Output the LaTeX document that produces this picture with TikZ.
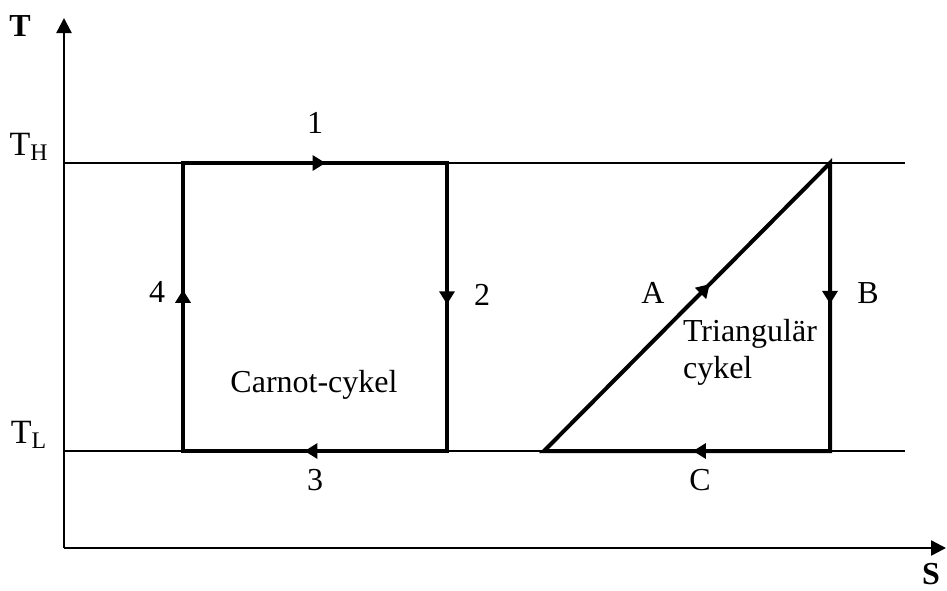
\documentclass[tikz,border=0pt]{standalone}
\usepackage{fontspec}
\setmainfont{Liberation Serif}
\usetikzlibrary{arrows.meta, decorations.markings}

\begin{document}
\begin{tikzpicture}[
  x=0.5pt, y=-0.5pt,
  font=\fontsize{16}{18.5}\selectfont,
  axis/.style={line width=1.2pt, -{Triangle[length=7.5pt, width=7.5pt]}},
  level/.style={line width=0.9pt},
  cyclepath/.style={line width=2pt, line join=miter},
  arrowat/.style={postaction={decorate, decoration={markings,
    mark=at position #1 with {\arrow{Triangle[length=6.5pt, width=7.5pt]}}}}},
  lbl/.style={inner sep=0pt},
  axlbl/.style={inner sep=0pt, font=\fontsize{16}{18.5}\selectfont\bfseries},
]
  \useasboundingbox (0,0) rectangle (947,590);

  % axes
  \coordinate (o) at (64,548);
  \coordinate (ytip) at (64,18);
  \coordinate (xtip) at (946,548);
  \draw[axis] (o) -- (ytip);
  \draw[axis] (o) -- (xtip);
  \node[axlbl] (tlab) at (20,26) {T};
  \node[axlbl] (slab) at (931,574) {S};

  % temperature levels
  \coordinate (hl) at (64,163);  \coordinate (hr) at (905,163);
  \coordinate (ll) at (64,451);  \coordinate (lr) at (905,451);
  \draw[level] (hl) -- (hr);
  \draw[level] (ll) -- (lr);
  \node[lbl, font=\fontsize{17}{19}\selectfont] (th) at (29,147) {T\textsubscript{H}};
  \node[lbl, font=\fontsize{17}{19}\selectfont] (tl) at (29,435) {T\textsubscript{L}};

  % Carnot cycle
  \coordinate (c1) at (183,163);
  \coordinate (c2) at (447,163);
  \coordinate (c3) at (447,451);
  \coordinate (c4) at (183,451);
  \draw[cyclepath, arrowat=0.146, arrowat=0.39, arrowat=0.628, arrowat=0.89]
    (c4) -- (c1) -- (c2) -- (c3) -- cycle;
  \node[lbl] (n1) at (315,123) {1};
  \node[lbl] (n2) at (482,295) {2};
  \node[lbl] (n3) at (315,480) {3};
  \node[lbl] (n4) at (157,292) {4};
  \node[lbl] (carnot) at (314,385) {Carnot-cykel};

  % triangular cycle
  \coordinate (t1) at (544,451);
  \coordinate (t2) at (830,163);
  \coordinate (t3) at (830,451);
  \draw[cyclepath, arrowat=0.24, arrowat=0.558, arrowat=0.848]
    (t1) -- (t2) -- (t3) -- cycle;
  \node[lbl] (na) at (653,293) {A};
  \node[lbl] (nb) at (868,293) {B};
  \node[lbl] (nc) at (700,480) {C};
  \node[lbl, align=left] (tri) at (750,352) {Triangulär\\cykel};
\end{tikzpicture}
\end{document}
